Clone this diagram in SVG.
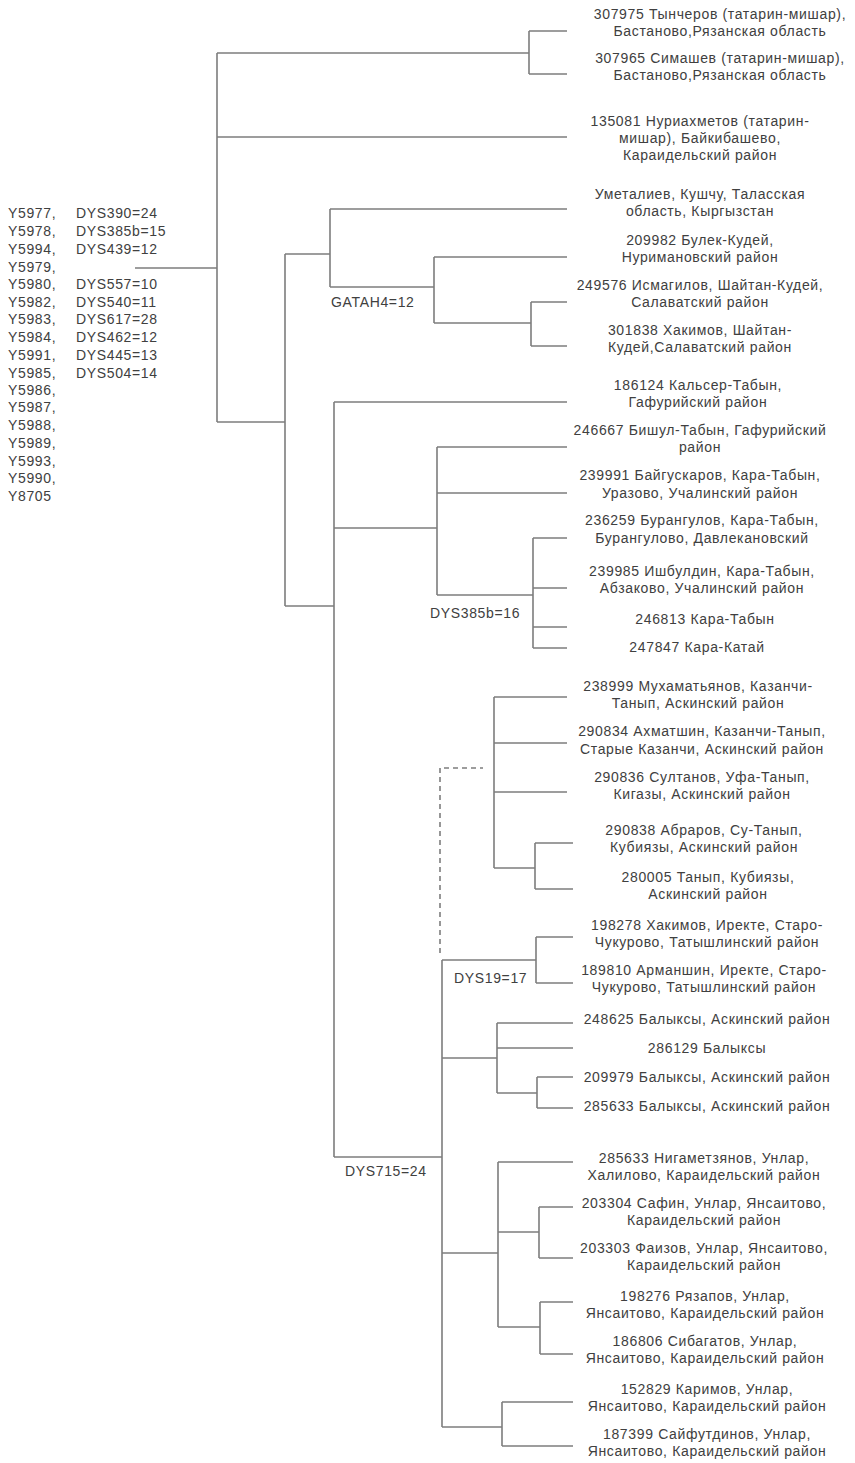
<svg xmlns="http://www.w3.org/2000/svg" width="855" height="1463" viewBox="0 0 855 1463">
<style>
.ln{stroke:#7d7d7d;stroke-width:1.6;fill:none}
.dash{stroke-dasharray:5,4}
.t{font-family:"Liberation Sans",Arial,sans-serif;font-size:14px;fill:#404040;letter-spacing:0.65px}
.c{text-anchor:middle}
</style>
<rect width="855" height="1463" fill="#ffffff"/>
<g id="connectors" class="ln">
<path d="M135,268H217M217,53V422M217,53H529M217,137H567M217,422H285"/>
<path d="M529,31V74M529,31H567M529,74H567"/>
<path d="M285,254V606M285,254H330M285,606H334"/>
<path d="M330,209V287M330,209H567M330,287H434"/>
<path d="M434,257V323M434,257H567M434,323H531"/>
<path d="M531,302V346M531,302H567M531,346H567"/>
<path d="M334,402V1157M334,402H567M334,528H437M334,1157H442"/>
<path d="M437,447V595M437,447H567M437,493H567M437,595H533"/>
<path d="M533,538V648M533,538H567M533,588H567M533,627H567M533,648H567"/>
<path d="M442,960V1427M442,960H536M442,1058H497M442,1253H498M442,1427H502"/>
<path class="dash" d="M440,953V768H483"/>
<path d="M494,697V868M494,697H567M494,743H567M494,792H567M494,868H535"/>
<path d="M535,843V889M535,843H573M535,889H573"/>
<path d="M536,937V983M536,937H573M536,983H573"/>
<path d="M497,1023V1093M497,1023H573M497,1048H573M497,1093H537"/>
<path d="M537,1077V1108M537,1077H573M537,1108H573"/>
<path d="M498,1162V1327M498,1162H573M498,1232H539M498,1327H540"/>
<path d="M539,1207V1258M539,1207H573M539,1258H573"/>
<path d="M540,1302V1354M540,1302H573M540,1354H573"/>
<path d="M502,1402V1446M502,1402H573M502,1446H573"/>
</g>
<g id="root" class="t">
<text x="8" y="218">Y5977,</text><text x="8" y="236">Y5978,</text><text x="8" y="254">Y5994,</text><text x="8" y="272">Y5979,</text><text x="8" y="289">Y5980,</text><text x="8" y="307">Y5982,</text><text x="8" y="324">Y5983,</text><text x="8" y="342">Y5984,</text><text x="8" y="360">Y5991,</text><text x="8" y="378">Y5985,</text><text x="8" y="395">Y5986,</text><text x="8" y="412">Y5987,</text><text x="8" y="430">Y5988,</text><text x="8" y="448">Y5989,</text><text x="8" y="466">Y5993,</text><text x="8" y="483">Y5990,</text><text x="8" y="501">Y8705</text>
<text x="76" y="218">DYS390=24</text><text x="76" y="236">DYS385b=15</text><text x="76" y="254">DYS439=12</text><text x="76" y="289">DYS557=10</text><text x="76" y="307">DYS540=11</text><text x="76" y="324">DYS617=28</text><text x="76" y="342">DYS462=12</text><text x="76" y="360">DYS445=13</text><text x="76" y="378">DYS504=14</text>
</g>
<g id="lbl-gatah4" class="t"><text x="331" y="307">GATAH4=12</text></g>
<g id="lbl-dys385b" class="t"><text x="430" y="618">DYS385b=16</text></g>
<g id="lbl-dys19" class="t"><text x="454" y="983">DYS19=17</text></g>
<g id="lbl-dys715" class="t"><text x="345" y="1176">DYS715=24</text></g>
<g id="n1" class="t c"><text x="720" y="19">307975 Тынчеров (татарин-мишар),</text><text x="720" y="36">Бастаново,Рязанская область</text></g>
<g id="n2" class="t c"><text x="720" y="63">307965  Симашев (татарин-мишар),</text><text x="720" y="80">Бастаново,Рязанская область</text></g>
<g id="n3" class="t c"><text x="700" y="126">135081 Нуриахметов (татарин-</text><text x="700" y="143">мишар), Байкибашево,</text><text x="700" y="160">Караидельский район</text></g>
<g id="n4" class="t c"><text x="700" y="199">Уметалиев, Кушчу, Таласская</text><text x="700" y="216">область, Кыргызстан</text></g>
<g id="n5" class="t c"><text x="700" y="245">209982  Булек-Кудей,</text><text x="700" y="262">Нуримановский район</text></g>
<g id="n6" class="t c"><text x="700" y="290">249576 Исмагилов, Шайтан-Кудей,</text><text x="700" y="307">Салаватский район</text></g>
<g id="n7" class="t c"><text x="700" y="335">301838 Хакимов, Шайтан-</text><text x="700" y="352">Кудей,Салаватский район</text></g>
<g id="n8" class="t c"><text x="698" y="390">186124 Кальсер-Табын,</text><text x="698" y="407">Гафурийский район</text></g>
<g id="n9" class="t c"><text x="700" y="435">246667 Бишул-Табын, Гафурийский</text><text x="700" y="452">район</text></g>
<g id="n10" class="t c"><text x="700" y="480">239991 Байгускаров, Кара-Табын,</text><text x="700" y="498">Уразово, Учалинский район</text></g>
<g id="n11" class="t c"><text x="702" y="525">236259 Бурангулов, Кара-Табын,</text><text x="702" y="543">Бурангулово, Давлекановский</text></g>
<g id="n12" class="t c"><text x="702" y="576">239985 Ишбулдин, Кара-Табын,</text><text x="702" y="593">Абзаково, Учалинский район</text></g>
<g id="n13" class="t c"><text x="705" y="624">246813 Кара-Табын</text></g>
<g id="n14" class="t c"><text x="697" y="652">247847 Кара-Катай</text></g>
<g id="n15" class="t c"><text x="698" y="691">238999 Мухаматьянов, Казанчи-</text><text x="698" y="708">Танып, Аскинский район</text></g>
<g id="n16" class="t c"><text x="702" y="736">290834 Ахматшин, Казанчи-Танып,</text><text x="702" y="754">Старые Казанчи, Аскинский район</text></g>
<g id="n17" class="t c"><text x="702" y="782">290836 Султанов, Уфа-Танып,</text><text x="702" y="799">Кигазы, Аскинский район</text></g>
<g id="n18" class="t c"><text x="704" y="835">290838  Абраров, Су-Танып,</text><text x="704" y="852">Кубиязы, Аскинский район</text></g>
<g id="n19" class="t c"><text x="708" y="882">280005  Танып, Кубиязы,</text><text x="708" y="899">Аскинский район</text></g>
<g id="n20" class="t c"><text x="707" y="930">198278 Хакимов, Иректе, Старо-</text><text x="707" y="947">Чукурово, Татышлинский район</text></g>
<g id="n21" class="t c"><text x="704" y="975">189810 Арманшин, Иректе, Старо-</text><text x="704" y="992">Чукурово, Татышлинский район</text></g>
<g id="n22" class="t c"><text x="707" y="1024">248625 Балыксы, Аскинский район</text></g>
<g id="n23" class="t c"><text x="707" y="1053">286129 Балыксы</text></g>
<g id="n24" class="t c"><text x="707" y="1082">209979 Балыксы, Аскинский район</text></g>
<g id="n25" class="t c"><text x="707" y="1111">285633 Балыксы, Аскинский район</text></g>
<g id="n26" class="t c"><text x="704" y="1163">285633 Нигаметзянов, Унлар,</text><text x="704" y="1180">Халилово, Караидельский район</text></g>
<g id="n27" class="t c"><text x="704" y="1208">203304 Сафин, Унлар, Янсаитово,</text><text x="704" y="1225">Караидельский район</text></g>
<g id="n28" class="t c"><text x="704" y="1253">203303 Фаизов, Унлар, Янсаитово,</text><text x="704" y="1270">Караидельский район</text></g>
<g id="n29" class="t c"><text x="705" y="1301">198276 Рязапов, Унлар,</text><text x="705" y="1318">Янсаитово, Караидельский район</text></g>
<g id="n30" class="t c"><text x="705" y="1346">186806 Сибагатов, Унлар,</text><text x="705" y="1363">Янсаитово, Караидельский район</text></g>
<g id="n31" class="t c"><text x="707" y="1394">152829 Каримов, Унлар,</text><text x="707" y="1411">Янсаитово, Караидельский район</text></g>
<g id="n32" class="t c"><text x="707" y="1439">187399 Сайфутдинов, Унлар,</text><text x="707" y="1456">Янсаитово, Караидельский район</text></g>
</svg>
